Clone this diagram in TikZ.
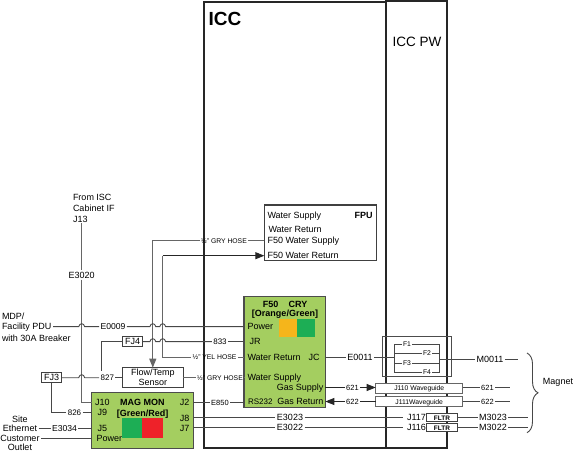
\documentclass[tikz,border=0pt]{standalone}
\usepackage{fontspec}
\setmainfont{Liberation Sans}
\usetikzlibrary{positioning, arrows.meta, decorations.pathreplacing}
\tikzset{
  panel/.style = {draw=black!85, line width=1.2pt, inner sep=0pt, outer sep=0pt},
  blk/.style   = {draw=black!75, line width=1.1pt, fill=white, inner sep=0pt, outer sep=0pt},
  grn/.style   = {draw=black!70, line width=1.3pt, fill=magGreen, inner sep=0pt, outer sep=0pt},
  lmp/.style   = {fill=#1, inner sep=0pt, outer sep=0pt},
  txt/.style   = {font=\fontsize{9}{10}\selectfont, inner sep=1.5pt, outer sep=0pt,
                  text height=6.5pt, text depth=0pt},
  num/.style   = {txt, font=\fontsize{8}{9}\selectfont, text height=5.8pt},
  hd/.style    = {txt, font=\fontsize{9}{10}\selectfont\bfseries},
  sml/.style   = {font=\fontsize{6.8}{8}\selectfont, inner sep=1.5pt, outer sep=0pt,
                  text height=5pt, text depth=0pt},
  wire/.style  = {draw=black!72, line width=0.9pt},
  hose/.style  = {draw=black!60, line width=1.1pt},
  tip/.style   = {-{Triangle[length=9pt, width=7pt]}},
}
\definecolor{magGreen}{HTML}{A4CE60}
\definecolor{lampOrange}{HTML}{F5B51B}
\definecolor{lampGreen}{HTML}{1DAE55}
\definecolor{lampRed}{HTML}{EE2229}
% small jump of a wire over a crossing one
\newcommand{\hop}[2]{-- ({#1-3},#2) .. controls ({#1-2},{#2-4}) and ({#1+2},{#2-4}) .. ({#1+3},#2)}

\begin{document}
\begin{tikzpicture}[x=1pt, y=-1pt]
  \useasboundingbox (0,0) rectangle (573,454);
  % cabinets
  \node[panel, minimum width=182pt, minimum height=446pt] (icc) at (295,225) {};
  \node[panel, minimum width=61pt, minimum height=447pt] (pw) at (416.5,224.5) {};
  \node[font=\fontsize{19}{21}\selectfont\bfseries, inner sep=0pt] (icclbl) at (225,19) {ICC};
  \node[font=\fontsize{13.5}{15}\selectfont, inner sep=0pt] (pwlbl) at (417,42) {ICC PW};
  % boxes
  \node[blk, minimum width=111.7pt, minimum height=55.7pt] (fpu) at (320.2,232.9) {};
  \node[grn, minimum width=81.3pt, minimum height=111.4pt] (cry) at (284.7,352) {};
  \node[grn, minimum width=101.6pt, minimum height=56pt] (mag) at (142.5,420.3) {};
  \node[lmp=lampOrange, minimum width=18pt, minimum height=18pt] (cryor) at (288,328) {};
  \node[lmp=lampGreen, minimum width=18pt, minimum height=18pt] (crygn) at (306,328) {};
  \node[lmp=lampGreen, minimum width=20pt, minimum height=20.6pt] (maggn) at (132.3,428) {};
  \node[lmp=lampRed, minimum width=20.7pt, minimum height=20.6pt] (magrd) at (152.6,428) {};
  \node[blk, line width=0.9pt, minimum width=61pt, minimum height=20pt, align=center, txt,
        text height=, text depth=] (flow) at (152.8,377.7) {Flow/Temp\\Sensor};
  \node[blk, line width=0.9pt, minimum width=20pt, minimum height=10pt, txt] (fj4) at (132.7,341.7) {FJ4};
  \node[blk, line width=0.9pt, minimum width=20pt, minimum height=10pt, txt] (fj3) at (51.7,377.7) {FJ3};
  \node[draw=black!70, line width=0.9pt, minimum width=69.4pt, minimum height=40pt, inner sep=0pt] (fbox) at (417,356.7) {};
  \node[blk, draw=black!60, line width=0.9pt, minimum width=87pt, minimum height=10pt, sml] (j110) at (419.2,388.3) {J110 Waveguide};
  \node[blk, draw=black!60, line width=0.9pt, minimum width=87pt, minimum height=10pt, sml] (j111) at (419.2,401.8) {J111Waveguide};
  \node[blk, line width=0.8pt, minimum width=30.6pt, minimum height=5.6pt, sml, font=\fontsize{6.5}{7}\selectfont\bfseries] (fltra) at (442,417.5) {FLTR};
  \node[blk, line width=0.8pt, minimum width=30.6pt, minimum height=5.6pt, sml, font=\fontsize{6.5}{7}\selectfont\bfseries] (fltrb) at (442,427.5) {FLTR};
  % FPU texts
  \node[txt, anchor=west] (fpusup) at (266,215) {Water Supply};
  \node[hd, anchor=east] (fpulbl) at (374,215) {FPU};
  \node[txt, anchor=west] (fpuret) at (267,229.5) {Water Return};
  \node[txt, anchor=west] (f50sup) at (266,240.7) {F50 Water Supply};
  \node[txt, anchor=west] (f50ret) at (266,255.7) {F50 Water Return};
  % CRY texts
  \node[hd] (crya) at (270.7,304) {F50};
  \node[hd] (cryb) at (298,304) {CRY};
  \node[hd] (cryc) at (285,313) {[Orange/Green]};
  \node[txt, anchor=west] (crypwr) at (246,326.7) {Power};
  \node[txt, anchor=west] (jr) at (248,341.7) {JR};
  \node[txt, anchor=west] (cryret) at (246,357.3) {Water Return};
  \node[txt, anchor=east] (jc) at (321,357.3) {JC};
  \node[txt, anchor=west] (crysup) at (246,377.7) {Water Supply};
  \node[txt, anchor=east] (gassup) at (325,387.5) {Gas Supply};
  \node[txt, anchor=east] (gasret) at (325,401.5) {Gas Return};
  \node[txt, anchor=west, font=\fontsize{8}{9}\selectfont] (rs232) at (246.5,401) {RS232};
  % MAG MON texts
  \node[hd] (maga) at (142.3,402.7) {MAG MON};
  \node[hd] (magb) at (142.7,413.7) {[Green/Red]};
  \node[txt, anchor=west] (j10) at (93.5,402.7) {J10};
  \node[txt, anchor=west] (j9) at (96.2,412.7) {J9};
  \node[txt, anchor=west] (j5) at (96.2,428.3) {J5};
  \node[txt, anchor=west] (magpwr) at (95.2,438.3) {Power};
  \node[txt, anchor=east] (j2) at (191,402.7) {J2};
  \node[txt, anchor=east] (j8) at (191,418) {J8};
  \node[txt, anchor=east] (j7) at (191,428.3) {J7};
  % outside texts
  \node[txt, anchor=west] (isca) at (71.5,197) {From ISC};
  \node[txt, anchor=west] (iscb) at (71.5,208) {Cabinet IF};
  \node[txt, anchor=west] (j13) at (71.5,219) {J13};
  \node[txt] (e3020) at (81.7,275) {E3020};
  \node[txt, anchor=west] (mdpa) at (0.5,316) {MDP/};
  \node[txt, anchor=west] (mdpb) at (0.5,326.7) {Facility PDU};
  \node[txt, anchor=west] (mdpc) at (0.5,338) {with 30A Breaker};
  \node[txt] (site) at (20,419.3) {Site};
  \node[txt] (ether) at (20,428.3) {Ethernet};
  \node[txt] (cust) at (20,438.3) {Customer};
  \node[txt] (outlet) at (20,447.3) {Outlet};
  % wire labels
  \node[num, font=\fontsize{8.6}{9}\selectfont] (e0009) at (113,326.7) {E0009};
  \node[num] (n833) at (220,341.7) {833};
  \node[num] (n827) at (107.3,377.7) {827};
  \node[num] (n826) at (74.5,412.7) {826};
  \node[num, font=\fontsize{8.6}{9}\selectfont] (e3034) at (64.5,428.3) {E3034};
  \node[num, font=\fontsize{7.5}{9}\selectfont] (e850) at (220,402.7) {E850};
  \node[txt] (e3023) at (290,417.5) {E3023};
  \node[txt] (e3022) at (290,427.5) {E3022};
  \node[txt] (e0011) at (360,357.3) {E0011};
  \node[txt] (m0011) at (490,359) {M0011};
  \node[txt] (m3023) at (493,417.5) {M3023};
  \node[txt] (m3022) at (493,427.5) {M3022};
  \node[txt] (j117) at (416.5,417.5) {J117};
  \node[txt] (j116) at (416.5,427.5) {J116};
  \node[num, font=\fontsize{7.5}{9}\selectfont] (n621a) at (352.5,387.5) {621};
  \node[num, font=\fontsize{7.5}{9}\selectfont] (n622a) at (352.5,401.5) {622};
  \node[num, font=\fontsize{7.5}{9}\selectfont] (n621b) at (487.5,387.5) {621};
  \node[num, font=\fontsize{7.5}{9}\selectfont] (n622b) at (487.5,401.5) {622};
  \node[sml] (hosea) at (224,240.7) {½" GRY HOSE};
  \node[sml] (hoseb) at (214.5,357.3) {½" YEL HOSE};
  \node[sml] (hosec) at (220,377.7) {½" GRY HOSE};
  \node[font=\fontsize{9}{10}\selectfont, inner sep=0pt] (magnet) at (558,382.7) {Magnet};
  % fuses
  \node[sml] (f1) at (407,344) {F1};
  \node[sml] (f2) at (427,353.3) {F2};
  \node[sml] (f3) at (407,363) {F3};
  \node[sml] (f4) at (427,372.3) {F4};
  \coordinate (busl) at (394,358);
  \coordinate (busr) at (439.3,359);
  % free ends
  \coordinate (yelbend) at (162.7,255.7);
  \coordinate (e3020top) at (81.7,223.5);
  \coordinate (fj4end) at (101.7,371);
  \coordinate (m0011end) at (518,359);
  \coordinate (n621end) at (510,387.5);
  \coordinate (n622end) at (510,401.5);
  \coordinate (m3023end) at (528,417.5);
  \coordinate (m3022end) at (528,427.5);
  % hoses
  \draw[hose] (fpu.west |- hosea) -- (hosea.east);
  \draw[hose, tip] (hosea.west) -| (flow.north);
  \draw[hose] (hoseb.east) -- (cry.west |- hoseb);
  \draw[hose] (hoseb.west) -| (yelbend);
  \draw[wire, draw=black!85, tip] (yelbend) -- (fpu.west |- yelbend);
  \draw[hose] (flow.east) -- (hosec.west);
  \draw[hose] (hosec.east) -- (cry.west |- hosec);
  % left wires
  \draw[hose] (e3020top) -- (e3020.north);
  \draw[hose] (e3020.south) |- (mag.west |- j10);
  \draw[wire] (mdpb.east) \hop{81.7}{326.7} -- (e0009.west);
  \draw[wire] (e0009.east) \hop{152.8}{326.7} \hop{162.7}{326.7} -- (cry.west |- e0009);
  \draw[wire] (fj4.west) -| (fj4end);
  \draw[wire] (fj4.east) \hop{152.8}{341.7} \hop{162.7}{341.7} -- (n833.west);
  \draw[wire] (n833.east) -- (cry.west |- n833);
  \draw[wire] (fj3.east) \hop{81.7}{377.7} -- (n827.west);
  \draw[wire] (n827.east) -- (flow.west);
  \draw[wire] (fj3.south) |- (n826.west);
  \draw[wire] (n826.east) -- (mag.west |- n826);
  \draw[wire] (ether.east) -- (e3034.west);
  \draw[wire] (e3034.east) -- (mag.west |- e3034);
  \draw[wire] (cust.east) -- (mag.west |- cust);
  % right wires
  \draw[wire] (mag.east |- e850) -- (e850.west);
  \draw[wire] (e850.east) -- (cry.west |- e850);
  \draw[wire] (mag.east |- e3023) -- (e3023.west);
  \draw[wire, shorten >=3pt] (e3023.east) -- (j117.west);
  \draw[wire] (mag.east |- e3022) -- (e3022.west);
  \draw[wire, shorten >=3pt] (e3022.east) -- (j116.west);
  \draw[wire] (cry.east |- e0011) -- (e0011.west);
  \draw[wire] (e0011.east) -- (e0011 -| busl);
  \draw[wire] (f1.west) -| (busl);
  \draw[wire] (f4.west) -| (busl);
  \draw[wire] (f2.west) -- (f2 -| busl);
  \draw[wire] (f3.west) -- (f3 -| busl);
  \draw[wire] (f1.east) -| (busr);
  \draw[wire] (f4.east) -| (busr);
  \draw[wire] (f2.east) -- (f2 -| busr);
  \draw[wire] (f3.east) -- (f3 -| busr);
  \draw[wire] (busr |- m0011) -- (m0011.west);
  \draw[wire] (m0011.east) -- (m0011end);
  \draw[wire, draw=black!85] (cry.east |- n621a) -- (n621a.west);
  \draw[wire, draw=black!85, tip] (n621a.east) -- (j110.west |- n621a);
  \draw[wire, draw=black!85] (j111.west |- n622a) -- (n622a.east);
  \draw[wire, draw=black!85, tip] (n622a.west) -- (cry.east |- n622a);
  \draw[wire] (j110.east |- n621b) -- (n621b.west);
  \draw[wire] (n621b.east) -- (n621end);
  \draw[wire] (j111.east |- n622b) -- (n622b.west);
  \draw[wire] (n622b.east) -- (n622end);
  \draw[wire] (fltra.east) -- (m3023.west);
  \draw[wire] (m3023.east) -- (m3023end);
  \draw[wire] (fltrb.east) -- (m3022.west);
  \draw[wire] (m3022.east) -- (m3022end);
  % magnet brace
  \draw[wire, decorate, decoration={brace, amplitude=11pt}] (527,353) -- (527,432.7);
\end{tikzpicture}
\end{document}
